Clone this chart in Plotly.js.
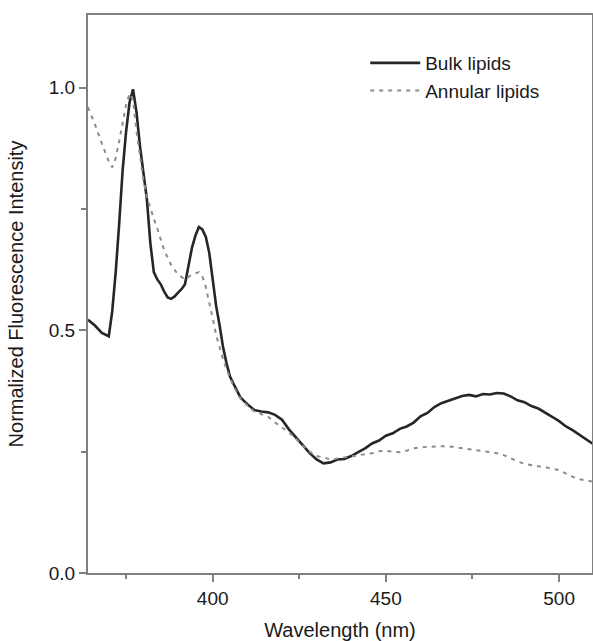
<!DOCTYPE html>
<html>
<head>
<meta charset="utf-8">
<script src="https://cdn.plot.ly/plotly-3.0.1.min.js"></script>
<style>html,body{margin:0;padding:0;background:#fff;}#chart{width:593px;height:641px;}</style>
</head>
<body>
<div id="chart"></div>
<script>
const bulkX = [364,366,368,370,371,372,373,374,375,376,377,378,379,380,381,382,383,384,385,386,387,388,389,390,391,392,393,394,395,396,397,398,399,400,401,402,403,404,405,406,407,408,410,412,414,416,418,420,422,424,426,428,430,432,434,436,438,440,442,444,446,448,450,452,454,456,458,460,462,464,466,468,470,472,474,476,478,480,482,484,486,488,490,492,494,496,498,500,502,504,506,508,510];
const bulkY = [0.522,0.51,0.495,0.488,0.54,0.62,0.72,0.83,0.91,0.97,0.997,0.95,0.88,0.82,0.77,0.68,0.62,0.605,0.595,0.58,0.568,0.565,0.57,0.578,0.585,0.595,0.63,0.67,0.695,0.713,0.708,0.693,0.66,0.6,0.55,0.51,0.465,0.432,0.405,0.39,0.375,0.362,0.348,0.336,0.333,0.331,0.326,0.316,0.296,0.279,0.262,0.247,0.234,0.226,0.228,0.234,0.235,0.241,0.249,0.257,0.267,0.273,0.283,0.288,0.297,0.302,0.31,0.323,0.33,0.342,0.35,0.355,0.361,0.365,0.367,0.364,0.369,0.368,0.371,0.37,0.364,0.356,0.352,0.344,0.339,0.331,0.322,0.313,0.302,0.294,0.284,0.275,0.265];

const annX = [364,366,368,370,371,372,373,374,375,376,377,378,379,380,381,382,383,384,386,388,390,392,394,396,397,398,399,400,401,402,403,404,406,408,410,412,414,416,418,420,422,424,426,428,430,432,434,436,438,440,442,444,446,448,450,452,454,456,458,460,462,464,466,468,470,472,474,476,478,480,482,484,486,488,490,492,494,496,498,500,502,504,506,508,510];
const annY = [0.96,0.925,0.885,0.848,0.836,0.855,0.89,0.925,0.965,0.988,0.975,0.91,0.86,0.81,0.775,0.75,0.73,0.71,0.665,0.635,0.615,0.605,0.615,0.62,0.612,0.59,0.56,0.525,0.49,0.462,0.44,0.42,0.385,0.36,0.345,0.333,0.327,0.322,0.31,0.3,0.29,0.277,0.262,0.25,0.241,0.238,0.234,0.236,0.238,0.241,0.242,0.244,0.247,0.251,0.252,0.25,0.249,0.252,0.257,0.259,0.26,0.261,0.261,0.261,0.259,0.257,0.255,0.253,0.25,0.249,0.247,0.243,0.236,0.23,0.225,0.222,0.22,0.218,0.215,0.212,0.205,0.198,0.193,0.19,0.188];

const seriesNames = ["Bulk lipids", "Annular lipids"];
const xTickVals = [400, 450, 500];
const yTickVals = [0.0, 0.5, 1.0];
const yTickText = ["0.0", "0.5", "1.0"];

const FONT = "Arial, 'Liberation Sans', Helvetica, sans-serif";
const AXC = "#808080";

const traces = [
  {x: bulkX, y: bulkY, name: seriesNames[0], type: "scatter", mode: "lines",
   line: {color: "#262626", width: 2.6}},
  {x: annX, y: annY, name: seriesNames[1], type: "scatter", mode: "lines",
   line: {color: "#8c8c8c", width: 2, dash: "4px,5px"}}
];

const layout = {
  width: 593, height: 641,
  margin: {l: 88, r: 1, t: 15, b: 68},
  paper_bgcolor: "#fff", plot_bgcolor: "#fff",
  font: {family: FONT, size: 19, color: "#1a1a1a"},
  showlegend: true,
  legend: {x: 0.55, y: 0.948, xanchor: "left", yanchor: "top",
           bgcolor: "rgba(0,0,0,0)", font: {size: 19, color: "#1a1a1a"},
           itemwidth: 50, tracegroupgap: 0},
  xaxis: {
    range: [364, 509.5], showgrid: false, zeroline: false,
    showline: true, linecolor: AXC, linewidth: 2, mirror: true,
    ticks: "outside", ticklen: 7, tickwidth: 2, tickcolor: AXC,
    tickvals: xTickVals, ticktext: xTickVals.map(String),
    tickfont: {size: 19, color: "#1a1a1a"},
    minor: {dtick: 25, tick0: 375, ticks: "outside", ticklen: 4, tickwidth: 2, tickcolor: AXC, showgrid: false},
    title: {text: "Wavelength (nm)", font: {size: 20, color: "#1a1a1a"}, standoff: 17}
  },
  yaxis: {
    range: [0, 1.15], showgrid: false, zeroline: false,
    showline: true, linecolor: AXC, linewidth: 2, mirror: true,
    ticks: "outside", ticklen: 7, tickwidth: 2, tickcolor: AXC,
    tickvals: yTickVals, ticktext: yTickText,
    tickfont: {size: 19, color: "#1a1a1a"},
    minor: {dtick: 0.25, tick0: 0.25, ticks: "outside", ticklen: 5, tickwidth: 2, tickcolor: AXC, showgrid: false},
    title: {text: "Normalized Fluorescence Intensity", font: {size: 20, color: "#1a1a1a"}, standoff: 20}
  }
};

Plotly.newPlot("chart", traces, layout, {displayModeBar: false, staticPlot: true});
</script>
</body>
</html>
